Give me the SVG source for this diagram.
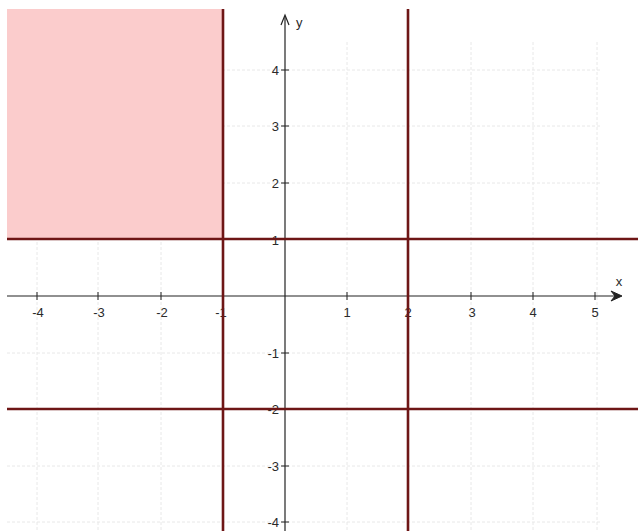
<svg xmlns="http://www.w3.org/2000/svg" width="638" height="531" viewBox="0 0 638 531">
<style>
.grid{stroke:#e8e8e8;stroke-width:1;stroke-dasharray:3,2;fill:none}
.axis{stroke:#222;stroke-width:1.2;fill:none}
.tick{stroke:#222;stroke-width:1}
.bound{stroke:#6e1616;stroke-width:2.6;fill:none}
.lbl{font-family:"Liberation Sans",Arial,sans-serif;font-size:13px;fill:#2a2a2a}
.xl{text-anchor:middle}
.yl{text-anchor:end}
</style>
<rect x="0" y="0" width="638" height="531" fill="#ffffff"/>
<g id="grid">
<path class="grid" d="M37 42V531M98 42V531M161 42V531M347 42V531M471 42V531M533 42V531M597 42V531"/>
<path class="grid" d="M7 70H600M7 126H600M7 183H600M7 353H600M7 466H600M7 522H600"/>
</g>
<g id="region">
<rect x="7" y="9" width="216" height="230" fill="#fbcccc"/>
</g>
<g id="axes">
<path class="axis" d="M7 296H620"/>
<path class="axis" d="M285 531V16"/>
<path d="M611 291L622 296L611 301L615 296Z" fill="#222" stroke="#222" stroke-width="1"/>
<path d="M281 25L285 15L289 25" fill="none" stroke="#222" stroke-width="1.2"/>
<path class="tick" d="M37 292V300M98 292V300M161 292V300M223 292V300M347 292V300M408 292V300M471 292V300M533 292V300M595 292V300"/>
<path class="tick" d="M281 70H289M281 126H289M281 183H289M281 239H289M281 353H289M281 409H289M281 466H289M281 522H289"/>
<text class="lbl" x="619" y="286" text-anchor="middle">x</text>
<text class="lbl" x="296" y="27">y</text>
</g>
<g id="xlabels">
<text class="lbl xl" x="38" y="317">-4</text>
<text class="lbl xl" x="99" y="317">-3</text>
<text class="lbl xl" x="162" y="317">-2</text>
<text class="lbl xl" x="221" y="317">-1</text>
<text class="lbl xl" x="347" y="317">1</text>
<text class="lbl xl" x="408" y="317">2</text>
<text class="lbl xl" x="472" y="317">3</text>
<text class="lbl xl" x="533" y="317">4</text>
<text class="lbl xl" x="595" y="317">5</text>
</g>
<g id="ylabels">
<text class="lbl yl" x="279" y="75">4</text>
<text class="lbl yl" x="279" y="131">3</text>
<text class="lbl yl" x="279" y="188">2</text>
<text class="lbl yl" x="279" y="245">1</text>
<text class="lbl yl" x="279" y="358">-1</text>
<text class="lbl yl" x="279" y="414">-2</text>
<text class="lbl yl" x="279" y="471">-3</text>
<text class="lbl yl" x="279" y="527">-4</text>
</g>
<g id="boundaries">
<path class="bound" d="M223 9V531"/>
<path class="bound" d="M408 9V531"/>
<path class="bound" d="M7 239H638"/>
<path class="bound" d="M7 409H638"/>
</g>
</svg>
